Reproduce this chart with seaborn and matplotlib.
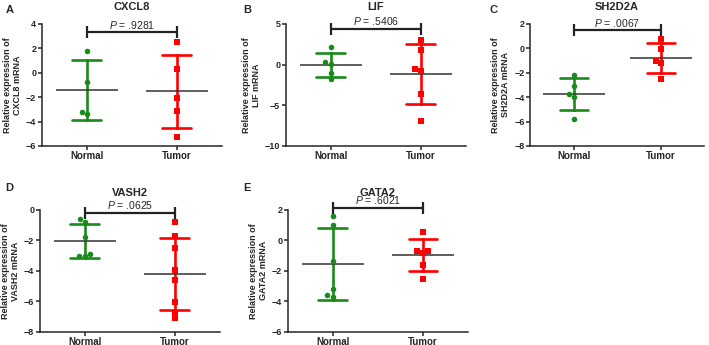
import matplotlib
matplotlib.use('Agg')
import matplotlib.pyplot as plt
import seaborn as sns
import pandas as pd

# values (relative expression, Normal vs Tumor)
cxcl8_normal = [1.8, -0.8, -3.2, -3.4]
cxcl8_tumor = [2.5, 0.3, -2.1, -3.1, -5.3]
lif_normal = [2.1, 0.25, 0.12, -1.05, -1.8]
lif_tumor = [3.05, 1.8, -0.75, -0.5, -3.6, -6.95]
sh2d2a_normal = [-2.2, -3.08, -3.71, -3.98, -5.77]
sh2d2a_tumor = [0.74, -0.08, -1.02, -1.24, -2.5]
vash2_normal = [-0.61, -0.83, -1.79, -2.88, -3.05, -3.05]
vash2_tumor = [-0.81, -1.74, -2.53, -3.97, -4.62, -6.03, -6.75, -7.12]
gata2_normal = [1.56, 1.0, -1.34, -3.2, -3.7, -3.6]
gata2_tumor = [0.55, -0.7, -0.7, -0.81, -1.62, -2.54]

genes = ['CXCL8', 'LIF', 'SH2D2A', 'VASH2', 'GATA2']
letters = ['A', 'B', 'C', 'D', 'E']
p_values = ['.9281', '.5406', '.0067', '.0625', '.6021']
y_ticks = [[-6, -4, -2, 0, 2, 4],
           [-10, -5, 0, 5],
           [-8, -6, -4, -2, 0, 2],
           [-8, -6, -4, -2, 0],
           [-6, -4, -2, 0, 2]]
bracket_y = [3.3, 4.4, 1.5, -0.2, 2.13]
groups = ['Normal', 'Tumor']

values = {'CXCL8': (cxcl8_normal, cxcl8_tumor),
          'LIF': (lif_normal, lif_tumor),
          'SH2D2A': (sh2d2a_normal, sh2d2a_tumor),
          'VASH2': (vash2_normal, vash2_tumor),
          'GATA2': (gata2_normal, gata2_tumor)}

green = '#1a8a1a'
red = '#ff0000'
pal = {'Normal': green, 'Tumor': red}

sns.set_style('ticks')
plt.rcParams['font.family'] = ['Liberation Sans', 'DejaVu Sans']
plt.rcParams['mathtext.fontset'] = 'custom'
plt.rcParams['mathtext.it'] = 'Liberation Sans:italic'
plt.rcParams['mathtext.rm'] = 'Liberation Sans'
plt.rcParams['axes.linewidth'] = 1.1
plt.rcParams['xtick.major.width'] = 1.1
plt.rcParams['ytick.major.width'] = 1.1
plt.rcParams['xtick.major.size'] = 3
plt.rcParams['ytick.major.size'] = 3

fig = plt.figure(figsize=(7.09, 3.45), dpi=100)

# axes boxes [left, bottom, width, height] in figure fraction
boxes = [[0.059, 0.577, 0.254, 0.354],
         [0.403, 0.577, 0.254, 0.354],
         [0.748, 0.577, 0.245, 0.354],
         [0.056, 0.038, 0.254, 0.354],
         [0.406, 0.038, 0.254, 0.354]]
letter_pos = [(0.008, 0.985), (0.343, 0.985), (0.69, 0.985),
              (0.008, 0.47), (0.343, 0.47)]

for i, gene in enumerate(genes):
    ax = fig.add_axes(boxes[i])
    normal, tumor = values[gene]
    df = pd.DataFrame({'group': ['Normal'] * len(normal) + ['Tumor'] * len(tumor),
                       'value': normal + tumor})

    # mean +/- SD error bars
    sns.pointplot(data=df, x='group', y='value', hue='group', order=groups,
                  hue_order=groups, palette=pal, errorbar='sd', capsize=0.32,
                  markers='', linestyle='none', err_kws={'linewidth': 1.9},
                  legend=False, ax=ax)
    # mean line
    sns.pointplot(data=df, x='group', y='value', order=groups, color='#333333',
                  errorbar=None, markers='_', markersize=44, markeredgewidth=1.1,
                  linestyle='none', ax=ax)
    # points
    sns.swarmplot(data=df[df.group == 'Normal'], x='group', y='value', order=groups,
                  color=green, marker='o', size=4, ax=ax)
    sns.swarmplot(data=df[df.group == 'Tumor'], x='group', y='value', order=groups,
                  color=red, marker='s', size=4, ax=ax)

    ax.set_xlim(-0.5, 1.5)
    ax.set_ylim(y_ticks[i][0], y_ticks[i][-1])
    ax.set_yticks(y_ticks[i])
    ax.set_yticklabels([str(t).replace('-', '\u2212') for t in y_ticks[i]])
    ax.tick_params(axis='y', labelsize=6.5, pad=1)
    ax.tick_params(axis='x', labelsize=7, pad=1)
    for lab in ax.get_xticklabels() + ax.get_yticklabels():
        lab.set_fontweight('bold')
    ax.set_xlabel('')
    ax.set_ylabel(f'Relative expression of\n{gene} mRNA', fontsize=6.5,
                  fontweight='bold', labelpad=3, linespacing=1.15)
    ax.set_title(gene, fontsize=8, fontweight='bold', pad=10)
    sns.despine(ax=ax)

    # significance bracket
    yb = bracket_y[i]
    ax.plot([0, 1], [yb, yb], color='#222222', lw=1.6, marker='|', ms=8,
            mew=1.6, clip_on=False, zorder=5)
    ax.annotate(r'$\mathit{P}$ = ' + p_values[i], xy=(0.5, yb), xytext=(0, 1),
                textcoords='offset points', ha='center', va='bottom',
                fontsize=7.5, annotation_clip=False)

    fig.text(letter_pos[i][0], letter_pos[i][1], letters[i], fontsize=8,
             fontweight='bold', ha='left', va='top')

fig.savefig('out.png', dpi=100)
